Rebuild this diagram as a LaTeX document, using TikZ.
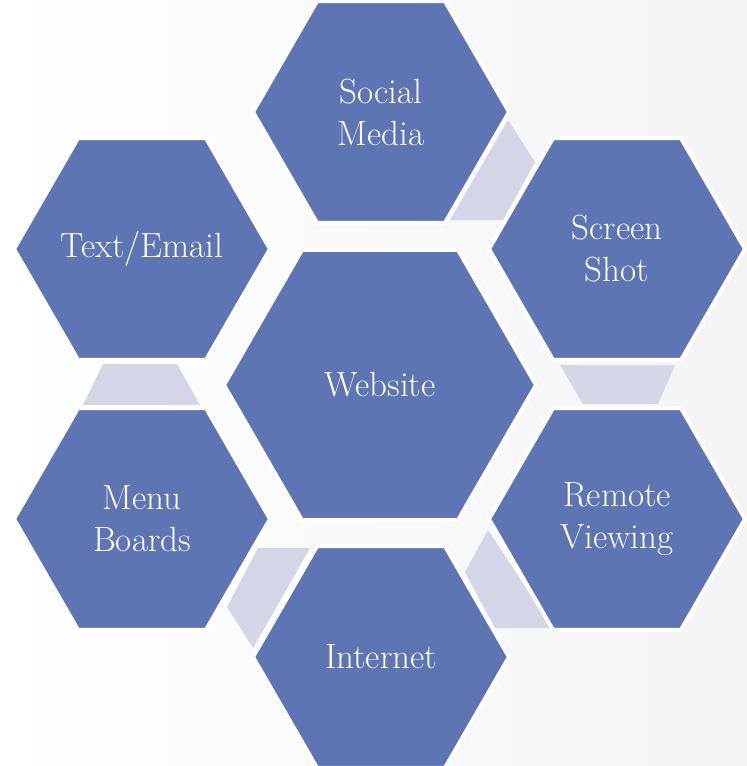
\documentclass[tikz,border=0pt]{standalone}
\usetikzlibrary{shapes.geometric}
\definecolor{hexblue}{RGB}{94,117,180}
\definecolor{linkgray}{RGB}{210,214,230}
\definecolor{bgright}{RGB}{244,244,244}
\tikzset{
  hexcell/.style={regular polygon, regular polygon sides=6, fill=hexblue,
    draw=white, line width=4pt, inner sep=0pt, minimum size=256pt,
    text=white, align=center, font=\fontsize{35}{42}\selectfont},
  bighex/.style={hexcell, minimum size=312pt},
  hexlink/.style={fill=linkgray}
}
\begin{document}
\begin{tikzpicture}[x=1pt,y=-1pt]
  \shade[left color=white,right color=bgright] (0,0) rectangle (747,766);
  \useasboundingbox (0,0) rectangle (747,766);
  % links between the outer cells
  \fill[hexlink] (508,120) -- (535,162) -- (503,220) -- (450,220) -- cycle;
  \fill[hexlink] (560,365) -- (675,365) -- (658,404) -- (583,404) -- cycle;
  \fill[hexlink] (488,530) -- (465,572) -- (495,628) -- (552,628) -- cycle;
  \fill[hexlink] (258,548) -- (310,548) -- (253,648) -- (227,607) -- cycle;
  \fill[hexlink] (103,364) -- (177,364) -- (200,405) -- (83,405) -- cycle;
  % cells
  \node[bighex] (website) at (380,385) {Website};
  \node[hexcell] (social) at (381,112) {Social\\Media};
  \node[hexcell] (screen) at (617,249) {Screen\\Shot};
  \node[hexcell] (remote) at (617,519) {Remote\\Viewing};
  \node[hexcell] (internet) at (381,657) {Internet};
  \node[hexcell] (menu) at (142,519) {Menu\\Boards};
  \node[hexcell] (textmail) at (142,249) {\makebox[0pt]{Text/Email}};
\end{tikzpicture}
\end{document}
